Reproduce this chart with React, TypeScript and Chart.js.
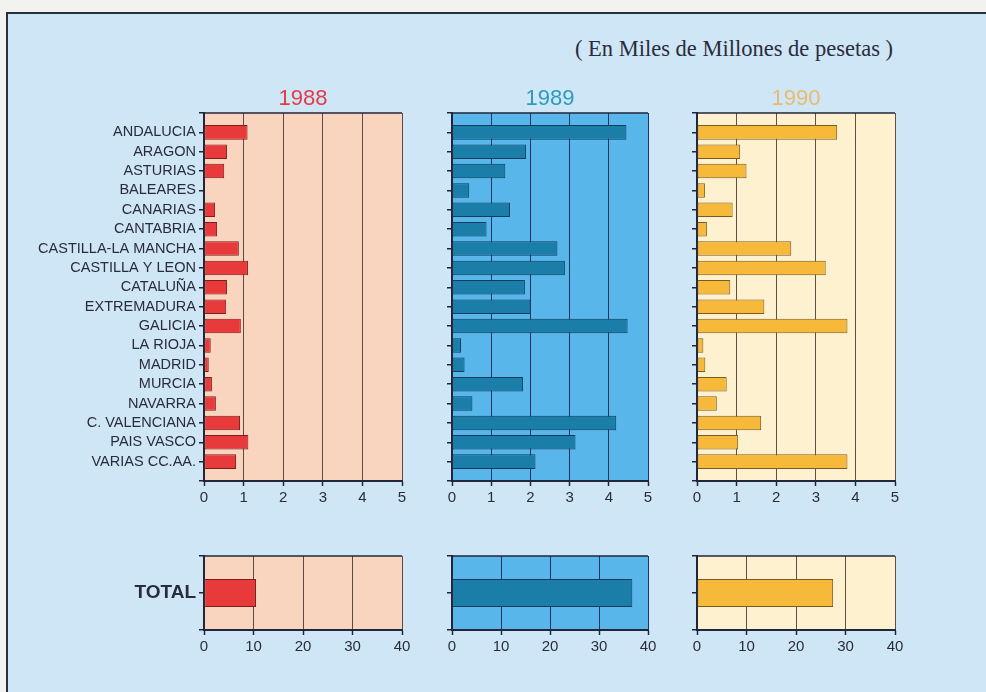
import React, { useEffect, useRef } from 'react';
import { Chart, registerables } from 'chart.js';

Chart.register(...registerables);

// ---------- data ----------
const regions = [
  'ANDALUCIA', 'ARAGON', 'ASTURIAS', 'BALEARES', 'CANARIAS', 'CANTABRIA',
  'CASTILLA-LA MANCHA', 'CASTILLA Y LEON', 'CATALUÑA', 'EXTREMADURA', 'GALICIA',
  'LA RIOJA', 'MADRID', 'MURCIA', 'NAVARRA', 'C. VALENCIANA', 'PAIS VASCO', 'VARIAS CC.AA.',
];
const values1988 = [1.10, 0.58, 0.51, 0, 0.28, 0.33, 0.88, 1.11, 0.58, 0.56, 0.93, 0.17, 0.12, 0.20, 0.30, 0.91, 1.12, 0.81];
const values1989 = [4.45, 1.89, 1.36, 0.44, 1.48, 0.88, 2.69, 2.88, 1.86, 2.00, 4.48, 0.23, 0.32, 1.81, 0.52, 4.19, 3.15, 2.13];
const values1990 = [3.54, 1.09, 1.25, 0.20, 0.90, 0.25, 2.38, 3.25, 0.84, 1.70, 3.80, 0.16, 0.21, 0.75, 0.50, 1.62, 1.04, 3.80];

const totalLabels = ['TOTAL'];
const total1988 = [10.5];
const total1989 = [36.8];
const total1990 = [27.5];

const years = ['1988', '1989', '1990'];
const regionAxisMax = 5;
const regionAxisStep = 1;
const totalAxisMax = 40;
const totalAxisStep = 10;
const subtitle = '( En Miles de Millones de pesetas )';

// ---------- styles ----------
const SANS = "'Liberation Sans', Arial, Helvetica, sans-serif";
const AXIS = '#22263a';
const TEXT = '#2a2c3c';

const themes = {
  '1988': { bg: '#f9d5bf', bar: '#e8393b', barBorder: '#7c1e1e', grid: '#5e4a40', title: '#e23c48' },
  '1989': { bg: '#59b6ea', bar: '#1b7ea8', barBorder: '#143c5c', grid: '#1d3660', title: '#2b9bbd' },
  '1990': { bg: '#fdf1d0', bar: '#f6b93a', barBorder: '#7a5c22', grid: '#5c5242', title: '#e7bc70' },
};

const framePlugin = {
  id: 'frame',
  beforeDraw(chart: any, _args: any, opts: any) {
    const { ctx, chartArea: a } = chart;
    ctx.save();
    ctx.fillStyle = opts.bg;
    ctx.fillRect(a.left, a.top, a.right - a.left, a.bottom - a.top);
    ctx.restore();
  },
  afterDraw(chart: any, _args: any, opts: any) {
    const { ctx, chartArea: a } = chart;
    ctx.save();
    ctx.strokeStyle = AXIS;
    ctx.lineWidth = 1.5;
    ctx.beginPath();
    ctx.moveTo(a.left, a.top);
    ctx.lineTo(a.right, a.top);
    ctx.stroke();
    if (opts.title) {
      ctx.font = `22px ${SANS}`;
      ctx.fillStyle = opts.titleColor;
      ctx.textAlign = 'center';
      ctx.textBaseline = 'middle';
      ctx.fillText(opts.title, (a.left + a.right) / 2, a.top - 14);
    }
    ctx.restore();
  },
};

type PanelProps = {
  labels: string[];
  values: number[];
  year: string;
  max: number;
  step: number;
  left: number;
  top: number;
  width: number;
  height: number;
  yAxisWidth: number;
  padTop: number;
  padRight: number;
  xAxisHeight: number;
  barPct: number;
  showLabels: boolean;
  labelFont: any;
  showTitle: boolean;
};

function Panel(p: PanelProps) {
  const ref = useRef<HTMLCanvasElement>(null);
  useEffect(() => {
    const t = (themes as any)[p.year];
    // one empty slot before and after the categories, so that the axis ends
    // carry their own tick marks as in the original
    const labels = ['', ...p.labels, ''];
    const data = [null, ...p.values, null];
    const chart = new Chart(ref.current as HTMLCanvasElement, {
      type: 'bar',
      data: {
        labels,
        datasets: [
          {
            data,
            backgroundColor: t.bar,
            borderColor: t.barBorder,
            borderWidth: 1,
            borderSkipped: false,
            barPercentage: p.barPct,
            categoryPercentage: 1,
          },
        ],
      },
      options: {
        indexAxis: 'y',
        animation: false,
        responsive: false,
        maintainAspectRatio: false,
        events: [],
        layout: { padding: { top: p.padTop, right: p.padRight, left: 0, bottom: 0 } },
        plugins: {
          legend: { display: false },
          tooltip: { enabled: false },
          title: { display: false },
          frame: { bg: t.bg, title: p.showTitle ? p.year : '', titleColor: t.title },
        } as any,
        scales: {
          x: {
            min: 0,
            max: p.max,
            ticks: {
              stepSize: p.step,
              color: TEXT,
              font: { family: SANS, size: 15 },
              padding: 3,
              maxRotation: 0,
              autoSkip: false,
            },
            grid: {
              color: t.grid,
              lineWidth: 1,
              tickColor: AXIS,
              tickLength: 5,
              tickWidth: 1.5,
            },
            border: { color: AXIS, width: 2 },
            afterFit(s: any) {
              s.height = p.xAxisHeight;
            },
          },
          y: {
            offset: false,
            grid: {
              offset: false,
              drawOnChartArea: false,
              color: AXIS,
              tickLength: 5,
              lineWidth: 1.5,
            },
            border: { color: AXIS, width: 2 },
            ticks: {
              autoSkip: false,
              color: TEXT,
              font: p.labelFont,
              padding: 3,
              callback: function (this: any, v: any) {
                return p.showLabels ? this.getLabelForValue(v) : '';
              },
            },
            afterFit(s: any) {
              s.width = p.yAxisWidth;
            },
          },
        },
      } as any,
      plugins: [framePlugin],
    });
    return () => chart.destroy();
  }, []);
  return (
    <canvas
      ref={ref}
      width={p.width}
      height={p.height}
      style={{ position: 'absolute', left: p.left, top: p.top, width: p.width, height: p.height }}
    />
  );
}

const regionFont = { family: SANS, size: 14.5 };
const totalFont = { family: SANS, size: 19, weight: 'bold' };

export default function App() {
  const mains = [
    { year: years[0], values: values1988, left: 0, width: 420, yAxisWidth: 204, padRight: 18, showLabels: true },
    { year: years[1], values: values1989, left: 420, width: 248, yAxisWidth: 32, padRight: 20, showLabels: false },
    { year: years[2], values: values1990, left: 670, width: 245, yAxisWidth: 27, padRight: 20, showLabels: false },
  ];
  const totals = [total1988, total1989, total1990];
  return (
    <div
      style={{
        position: 'absolute',
        left: 0,
        top: 0,
        width: 986,
        height: 692,
        background: '#f2f2ee',
        overflow: 'hidden',
      }}
    >
      <div
        style={{
          position: 'absolute',
          left: 6,
          top: 12,
          right: 0,
          bottom: 0,
          background: '#cfe6f7',
          borderLeft: '2px solid #2b2f38',
          borderTop: '2px solid #2b2f38',
        }}
      />
      <div
        style={{
          position: 'absolute',
          left: 575,
          top: 36,
          fontFamily: "'Liberation Serif', 'Times New Roman', serif",
          fontSize: 22.5,
          lineHeight: '26px',
          color: '#2a2c3c',
          whiteSpace: 'nowrap',
        }}
      >
        {subtitle}
      </div>
      {mains.map((m) => (
        <Panel
          key={'m' + m.year}
          labels={regions}
          values={m.values}
          year={m.year}
          max={regionAxisMax}
          step={regionAxisStep}
          left={m.left}
          top={80}
          width={m.width}
          height={441}
          yAxisWidth={m.yAxisWidth}
          padTop={33}
          padRight={m.padRight}
          xAxisHeight={40}
          barPct={0.75}
          showLabels={m.showLabels}
          labelFont={regionFont}
          showTitle={true}
        />
      ))}
      {mains.map((m, i) => (
        <Panel
          key={'t' + m.year}
          labels={totalLabels}
          values={totals[i]}
          year={m.year}
          max={totalAxisMax}
          step={totalAxisStep}
          left={m.left}
          top={540}
          width={m.width}
          height={130}
          yAxisWidth={m.yAxisWidth}
          padTop={16}
          padRight={m.padRight}
          xAxisHeight={40}
          barPct={0.76}
          showLabels={m.showLabels}
          labelFont={totalFont}
          showTitle={false}
        />
      ))}
    </div>
  );
}
